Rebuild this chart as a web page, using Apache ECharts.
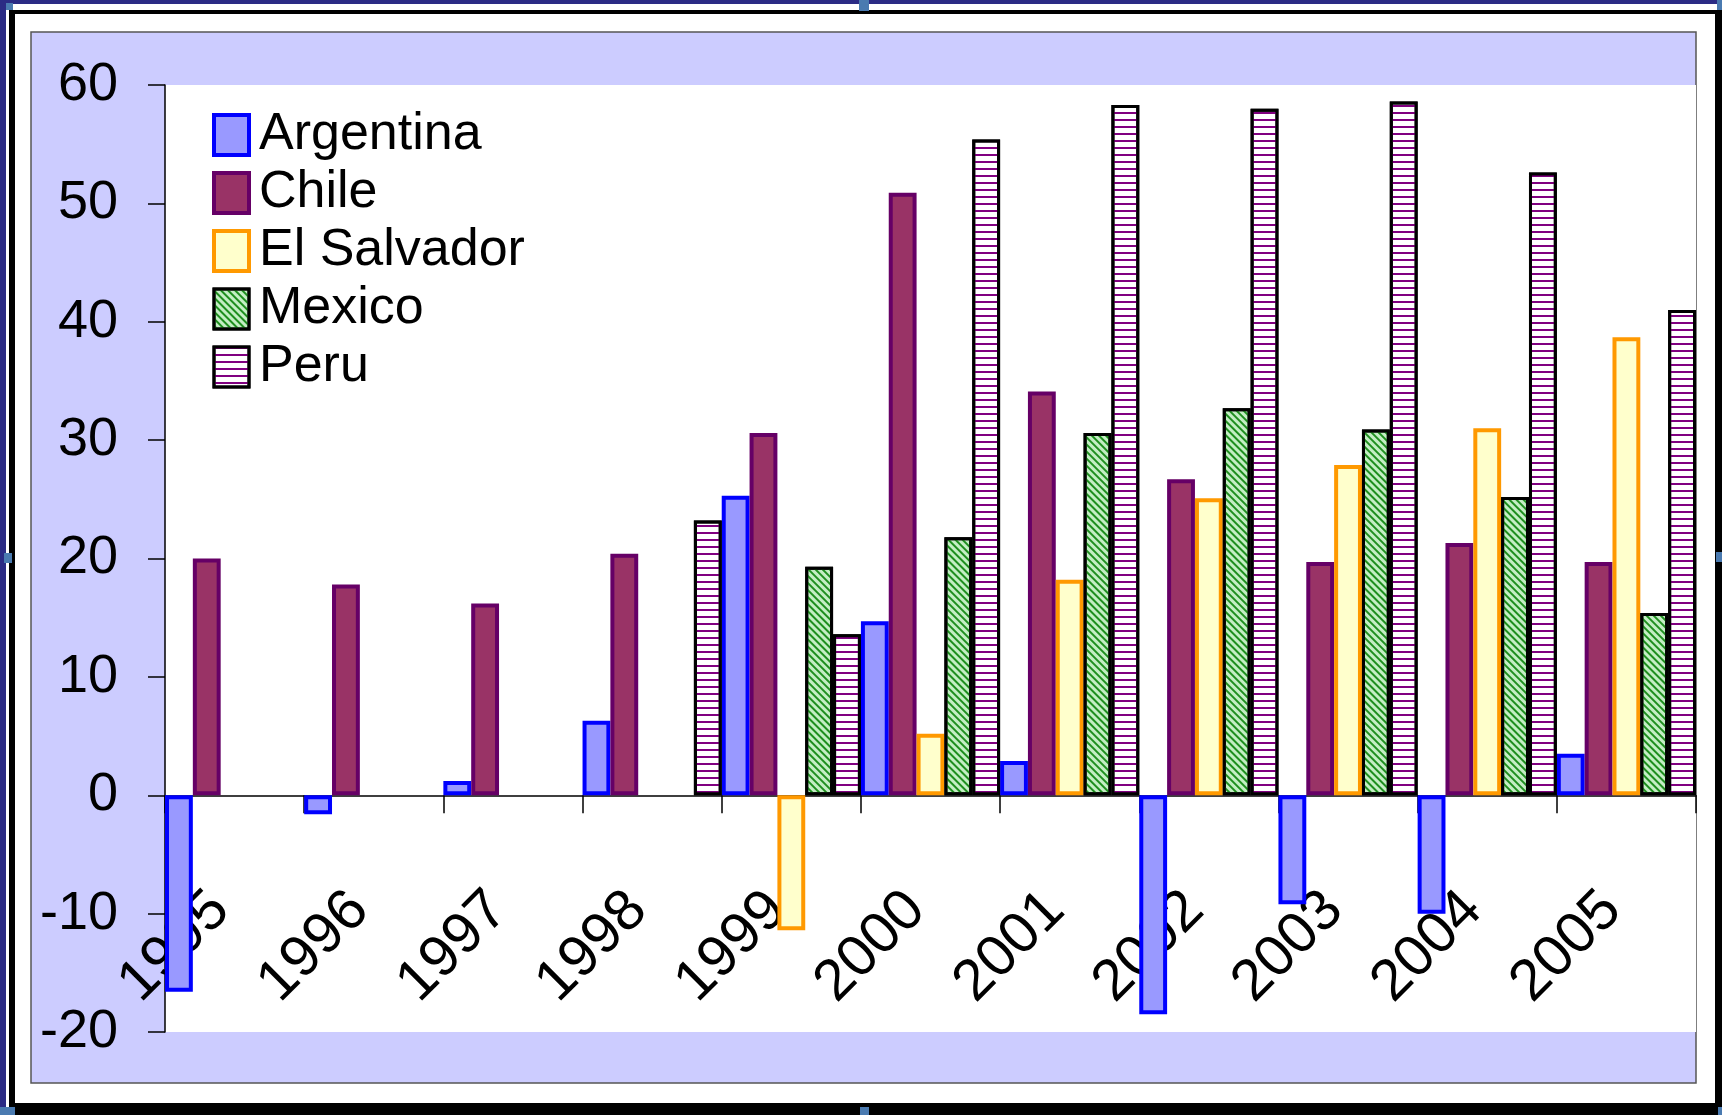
<!DOCTYPE html>
<html><head><meta charset="utf-8">
<script src="https://cdn.jsdelivr.net/npm/echarts@6/dist/echarts.min.js"></script>
<style>html,body{margin:0;padding:0;background:#fff}#c{width:1722px;height:1115px}</style>
</head><body><div id="c"></div>
<script>
// ---- data ----
const years = ['1995','1996','1997','1998','1999','2000','2001','2002','2003','2004','2005'];
const argentina  = [-16.6, -1.6, 1.2, 6.3, 25.3, 14.7, 2.9, -18.5, -9.2, -10.0, 3.5];
const chile      = [20.0, 17.8, 16.2, 20.4, 30.6, 50.9, 34.1, 26.7, 19.7, 21.3, 19.7];
const elSalvador = [null, null, null, null, -11.4, 5.2, 18.2, 25.1, 27.9, 31.0, 38.7];
const mexico     = [null, null, null, null, 19.3, 21.8, 30.6, 32.7, 30.9, 25.2, 15.4];
const peru       = [null, null, null, 23.2, 13.6, 55.4, 58.3, 58.0, 58.6, 52.6, 41.0];
const yMin = -20, yMax = 60, yStep = 10;

const FONT = 'Liberation Sans';
const styles = {
  'Argentina':   {color:'#9999FF', borderColor:'#0000FF', borderWidth:4},
  'Chile':       {color:'#993366', borderColor:'#660066', borderWidth:4},
  'El Salvador': {color:'#FFFFCC', borderColor:'#FF9900', borderWidth:4},
  'Mexico':      {color:'#C4EEC4', borderColor:'#000000', borderWidth:3,
                  decal:{symbol:'rect', symbolSize:1, dashArrayX:[1,0], dashArrayY:[2,3], rotation:Math.PI/4, color:'#1F8F1F'}},
  'Peru':        {color:'#FFFFFF', borderColor:'#000000', borderWidth:3,
                  decal:{symbol:'rect', symbolSize:1, dashArrayX:[1,0], dashArrayY:[2,5], rotation:0, color:'#800080'}}
};
const seriesData = [['Argentina',argentina],['Chile',chile],['El Salvador',elSalvador],['Mexico',mexico],['Peru',peru]];

const chart = echarts.init(document.getElementById('c'), null, {renderer:'canvas'});
const handle = '#4A7AB0';
chart.setOption({
  animation:false,
  backgroundColor:'#FFFFFF',
  graphic:[
    {type:'rect', z:-20, shape:{x:0,y:0,width:1722,height:4}, style:{fill:'#2B2B85'}},
    {type:'rect', z:-20, shape:{x:0,y:0,width:6,height:1115}, style:{fill:'#2B2B85'}},
    {type:'rect', z:-20, shape:{x:9,y:10,width:1713,height:4}, style:{fill:'#000'}},
    {type:'rect', z:-20, shape:{x:9,y:10,width:6,height:1105}, style:{fill:'#000'}},
    {type:'rect', z:-20, shape:{x:1715,y:10,width:7,height:1105}, style:{fill:'#000'}},
    {type:'rect', z:-20, shape:{x:9,y:1103,width:1713,height:12}, style:{fill:'#000'}},
    {type:'rect', z:-19, shape:{x:31,y:32,width:1665,height:1051}, style:{fill:'#CCCCFF', stroke:'#555555', lineWidth:1.5}},
    {type:'rect', z:-18, shape:{x:859,y:0,width:10,height:11}, style:{fill:handle}},
    {type:'rect', z:-18, shape:{x:4,y:553,width:8,height:10}, style:{fill:handle}},
    {type:'rect', z:-18, shape:{x:860,y:1107,width:9,height:8}, style:{fill:handle}},
    {type:'rect', z:-18, shape:{x:0,y:1107,width:15,height:8}, style:{fill:handle}},
    {type:'rect', z:-18, shape:{x:1716,y:552,width:6,height:10}, style:{fill:handle}},
    {type:'rect', z:-18, shape:{x:1717,y:0,width:5,height:10}, style:{fill:handle}},
    {type:'rect', z:-18, shape:{x:6,y:3,width:7,height:7}, style:{fill:handle}},
    {type:'rect', z:-18, shape:{x:1718,y:1107,width:4,height:8}, style:{fill:handle}}
  ],
  grid:{left:165, right:26, top:85, bottom:83, show:true, backgroundColor:'#FFFFFF', borderWidth:0,
        containLabel:false, outerBoundsMode:'none'},
  legend:{
    orient:'vertical', left:207, top:104, itemWidth:35, itemHeight:40, itemGap:6,
    icon:'rect',
    textStyle:{fontFamily:FONT, fontSize:52, color:'#000', lineHeight:40, padding:[0,0,0,5]},
    data: seriesData.map(([n]) => ({name:n, icon:'rect', itemStyle:{borderWidth: styles[n].borderWidth}}))
  },
  xAxis:{
    type:'category', data:years,
    axisLine:{onZero:true, lineStyle:{color:'#000', width:1.5}},
    axisTick:{show:true, length:18, alignWithLabel:false, lineStyle:{color:'#000', width:1.5}},
    axisLabel:{interval:0, rotate:45, margin:-145, padding:[0,20,0,0], fontFamily:FONT, fontSize:58, color:'#000'},
    splitLine:{show:false}
  },
  yAxis:{
    type:'value', min:yMin, max:yMax, interval:yStep,
    axisLine:{show:true, lineStyle:{color:'#000', width:1.5}},
    axisTick:{show:true, length:17, inside:false, lineStyle:{color:'#000', width:1.5}},
    axisLabel:{margin:47, fontFamily:FONT, fontSize:54, color:'#000'},
    splitLine:{show:false}
  },
  series: seriesData.map(([n, d]) => ({
    name:n, type:'bar', data:d, barGap:'0%', barCategoryGap:'0%',
    itemStyle: styles[n]
  }))
});
</script></body></html>
